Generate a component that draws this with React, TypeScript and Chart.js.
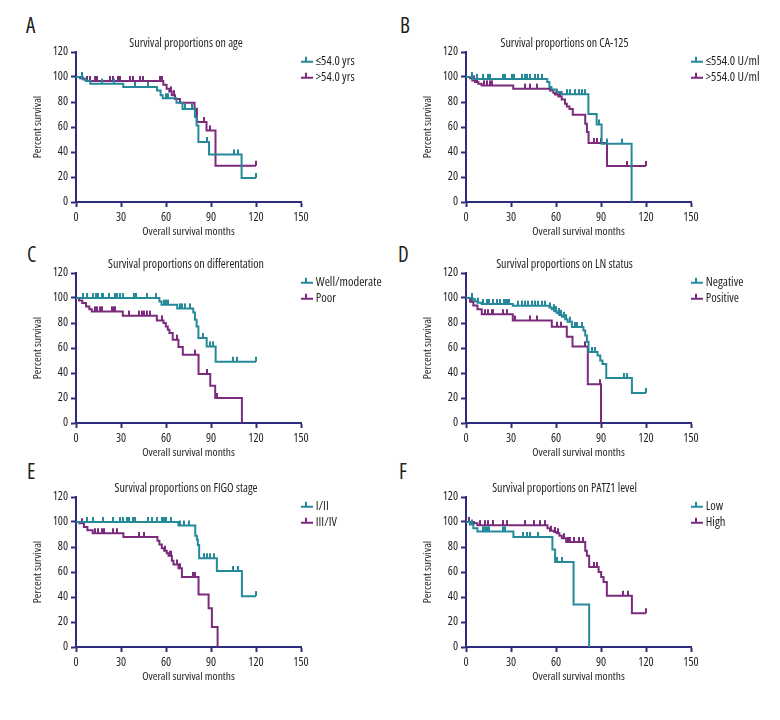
import React, { useEffect, useRef } from 'react';
import { Chart, registerables } from 'chart.js';

Chart.register(...registerables);

// ---------------- data (months, % survival) ----------------
const X_TICKS = [0, 30, 60, 90, 120, 150];
const Y_TICKS = [0, 20, 40, 60, 80, 100, 120];

// A: age
const ageYoungT = [4.4, 6.5, 9.5, 31.5, 54, 56.4, 57.8, 67, 71, 79.3, 80.4, 81.6, 88.7, 110.4];
const ageYoungS = [98.7, 97, 94.7, 92, 89.3, 85.5, 83, 79.5, 74.5, 68, 61.3, 48, 38, 19.2];
const ageYoungC = [3.8, 17, 25, 39, 48, 60, 61.5, 72.7, 77, 87.2, 105, 107.8, 120];
const ageOldT = [2.7, 4.9, 7, 58.2, 60.4, 62.2, 63.8, 66, 69.3, 79, 80.6, 87, 93];
const ageOldS = [99, 98, 96.8, 93.9, 90.7, 88.5, 85.5, 82.5, 79.5, 74.7, 64, 57.3, 29];
const ageOldC = [7.6, 9.3, 12.7, 13.8, 22.7, 24.9, 28.3, 29.4, 36, 38.3, 42.7, 44.9, 56, 57.4, 63, 65, 85, 89, 120];

// B: CA-125
const caLowT = [4.4, 54.2, 55.6, 57, 60.4, 63.8, 81.6, 87.1, 90.4, 110.4];
const caLowS = [98.5, 96, 92, 90, 88, 86.3, 70.5, 62, 46.7, 0];
const caLowC = [3.8, 7.6, 11.6, 14.9, 16, 24.5, 26, 30.5, 32, 37, 39.4, 40.5, 42.7, 46, 48.3, 50.5, 67, 69.3, 72.7, 75, 77, 79.3, 88.5, 93.8, 104.2];
const caHighT = [2.7, 4.2, 6, 8.2, 10.4, 31.5, 56, 58.2, 59.3, 61.6, 63.8, 66, 67.2, 69, 71.2, 79.5, 80.6, 81.7, 94];
const caHighS = [99, 97.3, 96, 94.7, 93.3, 90.7, 89.3, 87.5, 86, 84.5, 82, 78.7, 76.5, 74.5, 69.9, 62.7, 56, 47.2, 28.8];
const caHighC = [5.3, 7.6, 12, 13.8, 16, 17, 39, 42.7, 47.5, 60.5, 62.5, 85, 87.2, 90, 107.3, 120];

// C: differentiation
const difWellT = [55.6, 57, 67.5, 78.2, 79.3, 80.4, 81.6, 87.1, 93.1];
const difWellS = [97.3, 94.7, 91.7, 88.5, 82.7, 77.3, 68, 61.3, 49];
const difWellC = [4.4, 7.6, 11.1, 13.3, 14.9, 17.1, 18.2, 22.2, 26, 27.1, 29.3, 31.1, 38.7, 40, 47.1, 53.3, 58.5, 60, 61.5, 69, 70.5, 72.5, 76, 84.9, 89.3, 91.1, 104.4, 107, 120];
const difPoorT = [2, 4.2, 6.7, 8.9, 10.5, 31.2, 53.9, 58.3, 59.9, 61.2, 62.3, 64.5, 68.3, 71.2, 81.7, 89.5, 92.8, 110.6];
const difPoorS = [98, 96, 93.3, 91, 89.3, 85.9, 82.1, 80, 77.3, 74.7, 72, 66.7, 60.8, 54.7, 39.2, 29.9, 20, 0];
const difPoorC = [12.7, 14.2, 16, 17.1, 23.8, 25, 26, 35, 42.3, 43.8, 45.4, 47.2, 49.4, 57.2, 67.2, 79, 87.2, 93.9];

// D: LN status
const lnNegT = [4.4, 6, 7.6, 10.5, 31.2, 55.6, 57.2, 58.8, 60.5, 62.1, 63.9, 66.1, 67.7, 70.6, 78.3, 79.5, 80.6, 81.7, 87.7, 89.5, 91, 93.5, 110.6];
const lnNegS = [99, 97.5, 96.2, 95.2, 93.9, 92.5, 91, 89.5, 88, 86.5, 85, 83, 81, 76.8, 74, 70, 65, 56.8, 54, 50, 47.2, 36, 24];
const lnNegC = [3.8, 8.2, 11.6, 13.8, 15.6, 18.3, 20.5, 22.7, 25, 26, 27.2, 28.9, 34.9, 37.2, 39.4, 41.6, 43.8, 46.1, 48.3, 50.5, 52.7, 56, 58.4, 59.9, 61.7, 63.3, 65, 66.8, 69.5, 72.8, 73.9, 77.2, 83.9, 86.1, 105, 107.3, 120];
const lnPosT = [2.7, 4.9, 7.6, 10.5, 31.2, 57.2, 67.2, 71, 81.2, 90];
const lnPosS = [97, 94, 91, 87, 82, 77, 69, 61.3, 31, 0];
const lnPosC = [3.8, 12.7, 14.9, 17.1, 18.3, 24.9, 27.2, 32.7, 42.7, 47.2, 60.5, 63.2, 79.5, 89];

// E: FIGO stage
const figoEarlyT = [68.3, 79.5, 80.6, 81.2, 82.1, 93.9, 110.6];
const figoEarlyS = [97.2, 89, 86, 81.7, 71, 60.8, 40.7];
const figoEarlyC = [7.1, 11.6, 17.8, 24.9, 29.4, 31.6, 33.8, 35.6, 38.3, 39.4, 48.3, 50.5, 53.9, 57.2, 58.4, 59.9, 63.2, 69.4, 71.7, 75, 85, 87.2, 89.5, 91.7, 104.4, 107.7, 120];
const figoLateT = [2.2, 5.3, 7.6, 11.1, 31.6, 54.3, 55.6, 57.2, 58.8, 60.5, 61.7, 63.9, 65, 68.3, 70.6, 81.7, 88.4, 90.6, 94.4];
const figoLateS = [99, 96, 93.5, 91, 88, 85, 82, 79, 77, 75, 73, 69, 66, 63, 56, 42, 31, 16, 0];
const figoLateC = [3.8, 12.7, 14.9, 17.1, 18.7, 24.9, 27.2, 42.3, 45.4, 59.4, 62.8, 63.2, 67.2, 69.4, 78.3, 79.5];

// F: PATZ1 level
const patzLowT = [2.7, 4.9, 7.6, 31.6, 57.6, 59.4, 71.7, 82.1];
const patzLowS = [98, 95, 92.5, 88, 78, 68, 34, 0];
const patzLowC = [3.8, 11.6, 12.7, 14.2, 15.6, 24.5, 26, 38.3, 40.5, 42.7, 48.3, 60.5, 63.9];
const patzHighT = [5.3, 7.6, 54.3, 56, 58.8, 60.5, 62.3, 63.9, 66.8, 79.5, 80.6, 82.1, 88.4, 90.1, 91.7, 93.9, 110.6];
const patzHighS = [99, 97.5, 95, 93, 92, 91, 89, 87, 84, 77, 73, 64, 60, 56, 52, 41, 27];
const patzHighC = [2, 9.3, 12.7, 14.9, 18.3, 24.9, 27.2, 39.4, 45, 49.4, 52.7, 56.5, 59.5, 61, 65, 68, 69.5, 72, 75, 78, 85.5, 87.2, 104.4, 107.7, 120];

const LETTERS = ['A', 'B', 'C', 'D', 'E', 'F'];
const TITLES = [
  'Survival proportions on age',
  'Survival proportions on CA-125',
  'Survival proportions on differentation',
  'Survival proportions on LN status',
  'Survival proportions on FIGO stage',
  'Survival proportions on PATZ1 level',
];
const SERIES_LABELS = [
  ['≤54.0 yrs', '>54.0 yrs'],
  ['≤554.0 U/ml', '>554.0 U/ml'],
  ['Well/moderate', 'Poor'],
  ['Negative', 'Positive'],
  ['I/II', 'III/IV'],
  ['Low', 'High'],
];
const SERIES = [
  [[ageYoungT, ageYoungS, ageYoungC], [ageOldT, ageOldS, ageOldC]],
  [[caLowT, caLowS, caLowC], [caHighT, caHighS, caHighC]],
  [[difWellT, difWellS, difWellC], [difPoorT, difPoorS, difPoorC]],
  [[lnNegT, lnNegS, lnNegC], [lnPosT, lnPosS, lnPosC]],
  [[figoEarlyT, figoEarlyS, figoEarlyC], [figoLateT, figoLateS, figoLateC]],
  [[patzLowT, patzLowS, patzLowC], [patzHighT, patzHighS, patzHighC]],
];

// ---------------- styling / layout ----------------
const FAMILY = "'Open Sans', 'Liberation Sans', sans-serif";
const WEIGHT = 'normal condensed';
const TEAL = '#25899a';
const PURPLE = '#7b2a7c';
const AXIS = '#2f2c7e';
const TEXT = '#231f20';
const COLORS = [TEAL, PURPLE];

const CANVAS_W = 390;
const CANVAS_H = 217;
const ROW_CHART_TOP = [52, 273, 497];
const COL_LEFT = [0, 390];
const COL_PAD_RIGHT = [45, 68];
const COL_LEGEND_W = [44, 21];
const LETTER_POS = [
  [26, 14.5], [400, 14.5],
  [27, 244.3], [398, 243.5],
  [27, 461.3], [399, 461.3],
];

function tickImage(color: string) {
  const c = document.createElement('canvas');
  c.width = 2;
  c.height = 12;
  const g = c.getContext('2d')!;
  g.fillStyle = color;
  g.fillRect(0, 1, 2, 5);
  return c;
}

function legendImage(color: string) {
  const c = document.createElement('canvas');
  c.width = 18;
  c.height = 12;
  const g = c.getContext('2d')!;
  g.fillStyle = color;
  g.fillRect(1, 5, 14, 2);
  g.fillRect(7, 1, 2, 5);
  return c;
}

function buildCurve(times: number[], surv: number[], censors: number[]) {
  const pts: { x: number; y: number; c: boolean }[] = [{ x: 0, y: 100, c: false }];
  times.forEach((t, i) => pts.push({ x: t, y: surv[i], c: false }));
  censors.forEach((ct) => {
    let s = 100;
    times.forEach((t, i) => {
      if (t <= ct) s = surv[i];
    });
    pts.push({ x: ct, y: s, c: true });
  });
  pts.sort((a, b) => a.x - b.x || (a.c ? 1 : 0) - (b.c ? 1 : 0));
  return pts;
}

// let the legend text run past its (fixed-width) box up to the canvas edge
const legendRoom = {
  id: 'legendRoom',
  afterLayout(chart: any) {
    const lg = chart.legend;
    if (lg) {
      lg.right = chart.width;
      lg.width = chart.width - lg.left;
    }
  },
};

function Panel({ idx }: { idx: number }) {
  const ref = useRef<HTMLCanvasElement | null>(null);
  const row = Math.floor(idx / 2);
  const col = idx % 2;
  const top = ROW_CHART_TOP[row] - 22;
  const left = COL_LEFT[col];

  useEffect(() => {
    const titleFont = { family: FAMILY, size: 12, weight: WEIGHT };
    const axisTitleFont = { family: FAMILY, size: 11.5, weight: WEIGHT };
    const tickFont = { family: FAMILY, size: 12, weight: WEIGHT };
    const legendFont = { family: FAMILY, size: 12.5, weight: WEIGHT };
    const legendImgs = COLORS.map(legendImage);
    const datasets = SERIES[idx].map(([t, sv, c], k) => ({
      label: SERIES_LABELS[idx][k],
      data: buildCurve(t as number[], sv as number[], c as number[]),
      borderColor: COLORS[k],
      backgroundColor: COLORS[k],
      borderWidth: 2,
      stepped: 'before' as const,
      fill: false,
      pointStyle: tickImage(COLORS[k]),
      pointRadius: (ctx: any) => (ctx.raw && ctx.raw.c ? 3 : 0),
      pointHoverRadius: 0,
    }));
    const chart = new Chart(ref.current!, {
      type: 'line',
      data: { datasets },
      plugins: [legendRoom],
      options: {
        animation: false,
        responsive: false,
        events: [],
        layout: { padding: { left: 27, right: COL_PAD_RIGHT[col], top: 6.1, bottom: 4 } },
        plugins: {
          tooltip: { enabled: false },
          title: {
            display: true,
            text: TITLES[idx],
            color: TEXT,
            font: titleFont,
            padding: { top: 0, bottom: 1.5 },
          },
          legend: {
            display: true,
            position: 'right',
            align: 'start',
            fullSize: false,
            maxWidth: COL_LEGEND_W[col],
            labels: {
              usePointStyle: true,
              pointStyleWidth: 5,
              padding: 3.5,
              color: TEXT,
              font: legendFont,
              generateLabels: () =>
                SERIES_LABELS[idx].map((text, k) => ({
                  text,
                  fillStyle: COLORS[k],
                  strokeStyle: COLORS[k],
                  lineWidth: 0,
                  pointStyle: legendImgs[k],
                  hidden: false,
                  datasetIndex: k,
                  fontColor: TEXT,
                })),
            },
          },
        },
        scales: {
          x: {
            type: 'linear',
            min: X_TICKS[0],
            max: X_TICKS[X_TICKS.length - 1],
            afterBuildTicks: (sc: any) => {
              sc.ticks = X_TICKS.map((v) => ({ value: v }));
            },
            afterFit: (sc: any) => {
              sc.height = 41;
            },
            ticks: { font: tickFont, color: TEXT, padding: 3, maxRotation: 0 },
            grid: {
              display: true,
              drawOnChartArea: false,
              drawTicks: true,
              tickLength: 5,
              tickColor: AXIS,
              tickWidth: 2,
              color: AXIS,
            },
            border: { display: true, color: AXIS, width: 2 },
            title: {
              display: true,
              text: 'Overall survival months',
              color: TEXT,
              font: axisTitleFont,
              padding: { top: 0, bottom: 4 },
            },
          },
          y: {
            type: 'linear',
            min: Y_TICKS[0],
            max: Y_TICKS[Y_TICKS.length - 1],
            afterBuildTicks: (sc: any) => {
              sc.ticks = Y_TICKS.map((v) => ({ value: v }));
            },
            afterFit: (sc: any) => {
              sc.width = 49;
            },
            ticks: { font: tickFont, color: TEXT, padding: 3 },
            grid: {
              display: true,
              drawOnChartArea: false,
              drawTicks: true,
              tickLength: 5,
              tickColor: AXIS,
              tickWidth: 2,
              color: AXIS,
            },
            border: { display: true, color: AXIS, width: 2 },
            title: {
              display: true,
              text: 'Percent survival',
              color: TEXT,
              font: axisTitleFont,
              padding: { top: 4, bottom: 4 },
            },
          },
        },
      },
    } as any);
    return () => chart.destroy();
  }, [idx]);

  return (
    <canvas
      ref={ref}
      width={CANVAS_W}
      height={CANVAS_H}
      style={{ position: 'absolute', left, top, width: CANVAS_W, height: CANVAS_H }}
    />
  );
}

export default function App() {
  return (
    <div
      style={{
        position: 'absolute',
        left: 0,
        top: 0,
        width: 780,
        height: 720,
        background: '#ffffff',
        overflow: 'hidden',
      }}
    >
      {LETTERS.map((L, i) => (
        <div
          key={L}
          style={{
            position: 'absolute',
            left: LETTER_POS[i][0],
            top: LETTER_POS[i][1],
            fontFamily: FAMILY,
            fontStretch: 'condensed',
            fontSize: 21,
            lineHeight: '21px',
            color: TEXT,
          }}
        >
          {L}
        </div>
      ))}
      {LETTERS.map((L, i) => (
        <Panel key={'p' + L} idx={i} />
      ))}
    </div>
  );
}
